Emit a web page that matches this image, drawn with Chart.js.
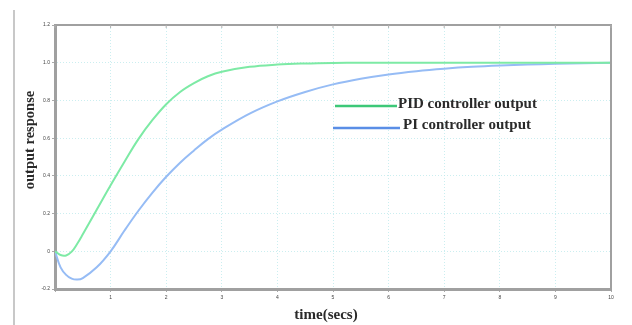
<!DOCTYPE html>
<html><head><meta charset="utf-8">
<script src="https://cdn.jsdelivr.net/npm/chart.js@4/dist/chart.umd.min.js"></script>
<style>
html,body{margin:0;padding:0;background:#fff;}
#wrap{position:relative;width:632px;height:325px;}
#edge{position:absolute;left:13px;top:10px;width:2px;height:315px;background:#c8c8c8;}
canvas{position:absolute;left:0;top:0;}
</style></head><body>
<div id="wrap"><div id="edge"></div><canvas id="c" width="632" height="325"></canvas></div>
<script>
const times = [0,0.1,0.2,0.3,0.4,0.5,0.75,1,1.25,1.5,1.75,2,2.25,2.5,2.75,3,3.5,4,4.5,5,5.5,6,6.5,7,7.5,8,8.5,9,9.5,10];
const pidOutput = [0,-0.02,-0.022,-0.002,0.04,0.09,0.22,0.35,0.475,0.595,0.695,0.78,0.845,0.892,0.928,0.952,0.978,0.99,0.996,0.999,1,1,1,1,1,1,1,1,1,1];
const piOutput = [0,-0.085,-0.125,-0.145,-0.15,-0.142,-0.085,0,0.11,0.215,0.31,0.395,0.47,0.535,0.595,0.645,0.73,0.795,0.845,0.885,0.915,0.938,0.955,0.968,0.978,0.985,0.99,0.994,0.997,1];
const xTicks = [0,1,2,3,4,5,6,7,8,9,10];
const yTicks = [-0.2,0,0.2,0.4,0.6,0.8,1.0,1.2];
const seriesNames = ['PID controller output','PI controller output'];
const xTitle = 'time(secs)';
const yTitle = 'output response';

const toPts = arr => times.map((t,i)=>({x:t,y:arr[i]}));

const deco = {
  id:'deco',
  afterDraw(chart){
    const {ctx, chartArea:a} = chart;
    ctx.save();
    ctx.strokeStyle='#a0a0a0'; ctx.lineWidth=2;
    ctx.beginPath(); ctx.moveTo(a.left,a.top); ctx.lineTo(a.right,a.top); ctx.lineTo(a.right,a.bottom); ctx.stroke();
    ctx.lineWidth=1; ctx.strokeStyle='#b0b0b0';
    const xs = chart.scales.x;
    xTicks.forEach(v=>{const px=xs.getPixelForValue(v); ctx.beginPath(); ctx.moveTo(px,a.top); ctx.lineTo(px,a.top+3); ctx.stroke();});
    ctx.fillStyle='#2a2a2a';
    ctx.textAlign='center'; ctx.textBaseline='middle';
    ctx.font='bold 15px "Liberation Serif", serif';
    ctx.fillText(xTitle, 326, 315);
    ctx.save(); ctx.translate(30,140); ctx.rotate(-Math.PI/2);
    ctx.font='bold 14.5px "Liberation Serif", serif';
    ctx.fillText(yTitle,0,0); ctx.restore();
    const ds = chart.data.datasets;
    const leg = [{x1:335,x2:397,y:106,tx:398,ty:104,c:'#3cc878'},{x1:333,x2:400,y:128,tx:403,ty:125,c:'#5a8ee6'}];
    leg.forEach((l,i)=>{
      ctx.strokeStyle=l.c; ctx.lineWidth=2.5;
      ctx.beginPath(); ctx.moveTo(l.x1,l.y); ctx.lineTo(l.x2,l.y); ctx.stroke();
      ctx.textAlign='left'; ctx.fillStyle='#2a2a2a';
      ctx.font='bold 15px "Liberation Serif", serif';
      ctx.fillText(ds[i].label, l.tx, l.ty);
    });
    ctx.restore();
  }
};

new Chart(document.getElementById('c'), {
  type:'line',
  data:{datasets:[
    {label:seriesNames[0], data:toPts(pidOutput), borderColor:'rgb(125,234,165)', borderWidth:2, pointRadius:0, tension:0.4, fill:false},
    {label:seriesNames[1], data:toPts(piOutput), borderColor:'rgb(150,188,245)', borderWidth:2, pointRadius:0, tension:0.4, fill:false}
  ]},
  options:{
    responsive:false, animation:false, devicePixelRatio:1,
    layout:{padding:{left:0,right:21,top:25,bottom:0}},
    plugins:{legend:{display:false}, tooltip:{enabled:false}},
    scales:{
      x:{type:'linear', min:0, max:10,
        afterFit(s){s.height=36;},
        afterBuildTicks(s){s.ticks = xTicks.map(v=>({value:v}));},
        ticks:{autoSkip:false, maxRotation:0, padding:3, font:{size:5, family:'"Liberation Sans"'}, color:'#444', callback:v=> v===0?'':String(v)},
        grid:{color:'rgba(185,232,235,0.75)', lineWidth:1, tickLength:3, tickColor:'#aaa'},
        border:{color:'#a0a0a0', width:3, dash:[1,2]}
      },
      y:{type:'linear', min:-0.2, max:1.2,
        afterFit(s){s.width=55;},
        afterBuildTicks(s){s.ticks = yTicks.map(v=>({value:v}));},
        ticks:{autoSkip:false, padding:2, font:{size:5, family:'"Liberation Sans"'}, color:'#444', callback:v=> Math.abs(v)<1e-9?'0':(Math.round(v*10)/10).toFixed(1)},
        grid:{color:'rgba(185,232,235,0.75)', lineWidth:1, tickLength:3, tickColor:'#aaa'},
        border:{color:'#a0a0a0', width:3, dash:[1,2]}
      }
    }
  },
  plugins:[deco]
});
</script>
</body></html>
